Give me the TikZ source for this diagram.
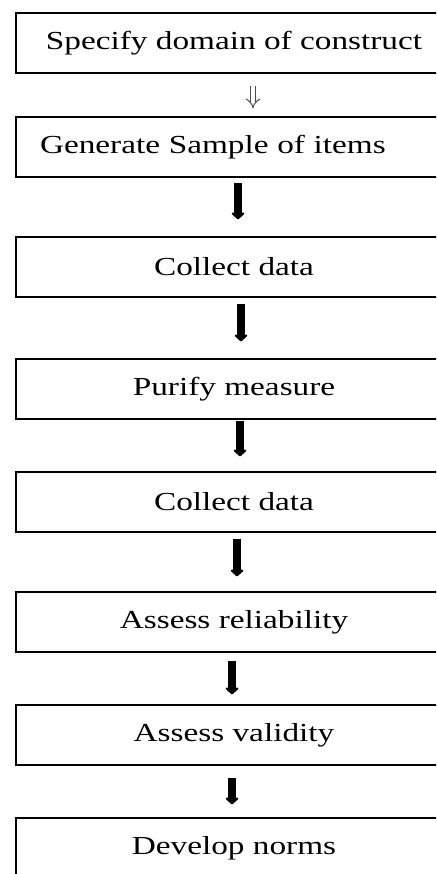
\documentclass[tikz,border=0pt]{standalone}
\usepackage{fontspec}
\setmainfont{Liberation Serif}[FakeStretch=1.28]
\usetikzlibrary{arrows.meta}

\begin{document}
\begin{tikzpicture}[x=1pt,y=-1pt]

      \useasboundingbox (0,0) rectangle (436,874);
      \clip (0,0) rectangle (436,874);

      \begin{scope}[every node/.style={draw,line width=1.2pt,minimum width=436pt,
          minimum height=60pt,align=center,font=\fontsize{26pt}{30pt}\selectfont}]
        \node (1) at (234,43)  {Specify domain of construct};
        \node[text width=388pt,align=left] (2) at (234,147) {Generate Sample of items};
        \node (3) at (234,267) {Collect data};
        \node (4) at (234,389) {Purify measure};
        \node (5) at (234,502) {Collect data};
        \node (6) at (234,622) {Assess reliability};
        \node (7) at (234,735) {Assess validity};
        \node (8) at (234,848) {Develop norms};
      \end{scope}

      \begin{scope}[every edge/.style={draw,line width=7.5pt,
          -{Triangle[round,length=7pt,width=15pt]}}]
        \path ([xshift=19pt]1.south) edge[draw=black!70,line width=1pt,double=white,
          double distance=4.2pt,-Implies,shorten <=12pt,shorten >=8pt] ([xshift=19pt]2.north);
        \path ([xshift=4pt]2.south) edge[shorten <=5pt,shorten >=17pt] ([xshift=4pt]3.north);
        \path ([xshift=7pt]3.south) edge[shorten <=6pt,shorten >=17pt] ([xshift=7pt]4.north);
        \path ([xshift=6pt]4.south) edge[shorten <=1pt,shorten >=15pt] ([xshift=6pt]5.north);
        \path ([xshift=3pt]5.south) edge[shorten <=6pt,shorten >=15pt] ([xshift=3pt]6.north);
        \path ([xshift=-2pt]6.south) edge[shorten <=8pt,shorten >=10pt] ([xshift=-2pt]7.north);
        \path ([xshift=-2pt]7.south) edge[shorten <=12pt,shorten >=13pt] ([xshift=-2pt]8.north);
      \end{scope}

    \end{tikzpicture}
\end{document}
